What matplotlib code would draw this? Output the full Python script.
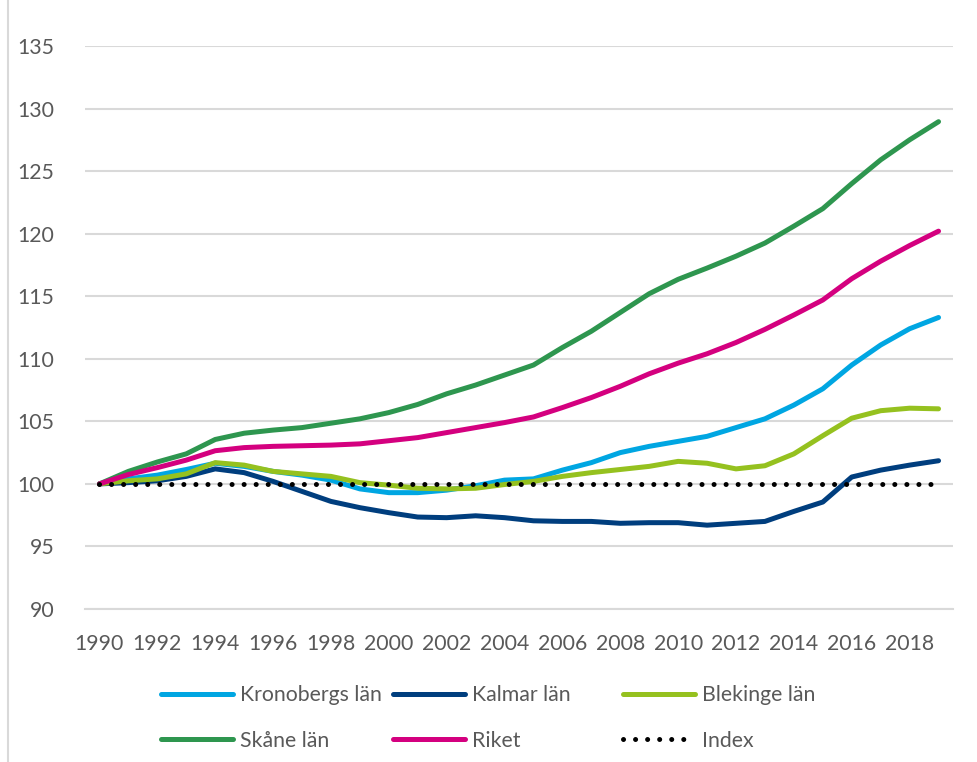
import matplotlib
matplotlib.use("Agg")
import matplotlib.pyplot as plt
from matplotlib.lines import Line2D

years = list(range(1990, 2020))
kronoberg = [100, 100.4, 100.7, 101.15, 101.65, 101.4, 101.0, 100.7, 100.3, 99.6,
             99.3, 99.3, 99.5, 99.85, 100.3, 100.4, 101.1, 101.7, 102.5, 103.0,
             103.4, 103.8, 104.5, 105.2, 106.3, 107.6, 109.5, 111.1, 112.4, 113.3]
kalmar = [100, 100.1, 100.25, 100.6, 101.2, 100.9, 100.2, 99.4, 98.6, 98.1,
          97.7, 97.35, 97.3, 97.45, 97.3, 97.05, 97.0, 97.0, 96.85, 96.9,
          96.9, 96.7, 96.85, 97.0, 97.8, 98.55, 100.55, 101.1, 101.5, 101.85]
blekinge = [100, 100.25, 100.4, 100.8, 101.7, 101.5, 101.0, 100.8, 100.6, 100.1,
            99.9, 99.65, 99.6, 99.65, 99.95, 100.2, 100.6, 100.9, 101.15, 101.4,
            101.8, 101.65, 101.2, 101.45, 102.4, 103.85, 105.25, 105.85, 106.05, 106.0]
skane = [100, 101.0, 101.75, 102.4, 103.55, 104.05, 104.3, 104.5, 104.85, 105.2,
         105.7, 106.35, 107.2, 107.9, 108.7, 109.5, 110.9, 112.2, 113.7, 115.2,
         116.35, 117.25, 118.2, 119.25, 120.6, 122.0, 124.0, 125.9, 127.5, 128.95]
riket = [100, 100.75, 101.3, 101.9, 102.65, 102.9, 103.0, 103.05, 103.1, 103.2,
         103.45, 103.7, 104.1, 104.5, 104.9, 105.35, 106.1, 106.9, 107.8, 108.8,
         109.65, 110.4, 111.3, 112.35, 113.5, 114.7, 116.4, 117.8, 119.05, 120.2]
index = [100] * 30

series_names = ["Kronobergs län", "Kalmar län", "Blekinge län", "Skåne län", "Riket", "Index"]
yticks = [90, 95, 100, 105, 110, 115, 120, 125, 130, 135]
xticks = list(range(1990, 2019, 2))

colors = {"Kronobergs län": "#00A6E2", "Kalmar län": "#003E7E", "Blekinge län": "#95C11F",
          "Skåne län": "#2E964F", "Riket": "#D4007F", "Index": "#000000"}

plt.rcParams['font.family'] = ['Lato', 'DejaVu Sans']
TXT = "#595959"
FS = 15.3

fig = plt.figure(figsize=(9.77, 7.62), dpi=100)
W, H = 977, 762
ax = fig.add_axes([85 / W, 1 - 609 / H, (953 - 85) / W, (609 - 46) / H])

data = [kronoberg, kalmar, blekinge, skane, riket]
lw = 3.6
for name, vals in zip(series_names[:5], data):
    ax.plot(years, vals, color=colors[name], lw=lw, solid_capstyle='round',
            solid_joinstyle='round', zorder=3)
ax.plot(years, index, color="black", lw=3.6, linestyle=(0, (0.01, 2.4)),
        dash_capstyle='round', zorder=4)

ax.set_xlim(1989.5, 2019.5)
ax.set_ylim(90, 135)
ax.set_yticks(yticks)
ax.set_xticks(xticks)
ax.set_xticklabels([str(x) for x in xticks])
ax.grid(axis='y', color="#D9D9D9", lw=1.5, zorder=0)
ax.tick_params(axis='both', length=0, labelsize=FS, colors=TXT)
ax.tick_params(axis='y', pad=22)
ax.tick_params(axis='x', pad=18)
for s in ['top', 'right', 'left']:
    ax.spines[s].set_visible(False)
ax.spines['bottom'].set_color("#D9D9D9")
ax.spines['bottom'].set_linewidth(1.5)

# legend in three columns
cols = [["Kronobergs län", "Skåne län"], ["Kalmar län", "Riket"], ["Blekinge län", "Index"]]
xs = [161, 393, 623]
for names, x0 in zip(cols, xs):
    hl = []
    for n in names:
        if n == "Index":
            hl.append(Line2D([], [], color="black", lw=3.6, linestyle=(0, (0.01, 2.4)),
                             dash_capstyle='round'))
        else:
            hl.append(Line2D([], [], color=colors[n], lw=lw, solid_capstyle='round'))
    leg = fig.legend(hl, names, loc='upper left', bbox_to_anchor=(x0 / W, 1 - 685 / H),
                     frameon=False, fontsize=FS, handlelength=3.4, handletextpad=0.3,
                     labelspacing=1.22, borderpad=0, borderaxespad=0)
    for t in leg.get_texts():
        t.set_color(TXT)

fig.add_artist(Line2D([8 / W, 8 / W], [0, 1], transform=fig.transFigure, color="#D9D9D9", lw=1.5))

fig.savefig("out.png", dpi=100)
